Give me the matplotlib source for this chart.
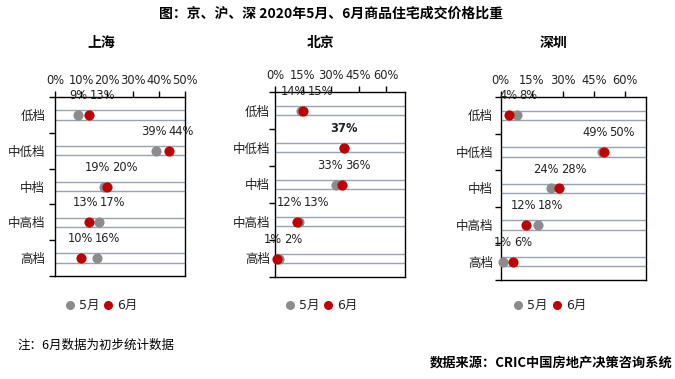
import matplotlib
matplotlib.use("Agg")
import matplotlib.pyplot as plt
from matplotlib.lines import Line2D
from matplotlib.ticker import FixedLocator, FuncFormatter

plt.rcParams['font.family'] = ['DejaVu Sans', 'Noto Sans CJK SC']

# ---------------- data ----------------
categories = ["低档", "中低档", "中档", "中高档", "高档"]
series_names = ["5月", "6月"]
cities = ["上海", "北京", "深圳"]

shanghai_may = [9, 39, 19, 17, 16]
shanghai_jun = [13, 44, 20, 13, 10]
beijing_may = [14, 37, 33, 13, 2]
beijing_jun = [15, 37, 36, 12, 1]
shenzhen_may = [8, 49, 24, 18, 1]
shenzhen_jun = [4, 50, 28, 12, 6]

shanghai_ticks = [0, 10, 20, 30, 40, 50]
beijing_ticks = [0, 15, 30, 45, 60]
shenzhen_ticks = [0, 15, 30, 45, 60]

title = "图：京、沪、深 2020年5月、6月商品住宅成交价格比重"
note = "注：6月数据为初步统计数据"
source = "数据来源：CRIC中国房地产决策咨询系统"

# ---------------- layout ----------------
W, H = 675, 379
DPI = 100
fig = plt.figure(figsize=(W / DPI, H / DPI), dpi=DPI)

GRAY = "#8c8c8c"
RED = "#c00000"
LINE = "#97a4b0"
TXT = "#222222"
CJK = "Noto Sans CJK SC"

def fbox(l, r, t, b):
    return [l / W, 1 - b / H, (r - l) / W, (b - t) / H]

panels = [
    dict(box=fbox(55, 185, 97, 276), xmax=50, ticks=shanghai_ticks,
         may=shanghai_may, jun=shanghai_jun, ypad=7.0, name=cities[0], tx=101),
    dict(box=fbox(275, 405, 92, 277), xmax=70, ticks=beijing_ticks,
         may=beijing_may, jun=beijing_jun, ypad=3.5, name=cities[1], tx=321),
    dict(box=fbox(500.7, 646, 97, 280), xmax=70, ticks=shenzhen_ticks,
         may=shenzhen_may, jun=shenzhen_jun, ypad=5.5, name=cities[2], tx=553),
]

LABEL_FS = 8.3
FS_PX = LABEL_FS * DPI / 72.0
DY_PT = 14.0

def label_width_px(v):
    s = f"{v}"
    return (len(s) * 0.636 + 0.95) * FS_PX

n = len(categories)
ypos = list(range(n))

for p in panels:
    ax = fig.add_axes(p["box"])
    ax.set_xlim(0, p["xmax"])
    ax.set_ylim(n - 0.5, -0.5)
    for s in ax.spines.values():
        s.set_color("black")
        s.set_linewidth(1.0)

    # x axis on top
    ax.xaxis.tick_top()
    ax.set_xticks(p["ticks"])
    ax.xaxis.set_major_formatter(FuncFormatter(lambda v, pos: f"{int(v)}%"))
    ax.tick_params(axis="x", which="major", length=4, width=1, pad=3,
                   labelsize=LABEL_FS, colors="black", labelcolor=TXT)

    # y axis: ticks at boundaries, labels at centers
    ax.yaxis.set_major_locator(FixedLocator([i - 0.5 for i in range(n + 1)]))
    ax.yaxis.set_major_formatter(FuncFormatter(lambda v, pos: ""))
    ax.yaxis.set_minor_locator(FixedLocator(ypos))
    ax.set_yticklabels(categories, minor=True, fontfamily=CJK, fontsize=9, color=TXT)
    ax.tick_params(axis="y", which="major", length=4, width=1, colors="black")
    ax.tick_params(axis="y", which="minor", length=0, pad=p["ypad"])

    # horizontal guide lines
    for y in ypos:
        ax.axhline(y - 0.13, color=LINE, lw=1.0, zorder=1)
        ax.axhline(y + 0.13, color=LINE, lw=1.0, zorder=1)

    ax.plot(p["may"], ypos, "o", color=GRAY, ms=7.3, mec="none", zorder=3,
            clip_on=False)
    ax.plot(p["jun"], ypos, "o", color=RED, ms=7.3, mec="none", zorder=4,
            clip_on=False)

    # data labels
    px_per_unit = (p["box"][2] * W) / p["xmax"]
    for y, a, b in zip(ypos, p["may"], p["jun"]):
        if a == b:
            ax.annotate(f"{a}%", (a, y), xytext=(0, DY_PT), textcoords="offset points",
                        ha="center", va="center", fontsize=LABEL_FS, color=TXT,
                        fontweight="bold", annotation_clip=False)
            continue
        lo, hi = min(a, b), max(a, b)
        wlo, whi = label_width_px(lo), label_width_px(hi)
        dist_px = (hi - lo) * px_per_unit
        if dist_px >= (wlo + whi) / 2 + 2:
            ax.annotate(f"{lo}%", (lo, y), xytext=(0, DY_PT), textcoords="offset points",
                        ha="center", va="center", fontsize=LABEL_FS, color=TXT,
                        annotation_clip=False)
            ax.annotate(f"{hi}%", (hi, y), xytext=(0, DY_PT), textcoords="offset points",
                        ha="center", va="center", fontsize=LABEL_FS, color=TXT,
                        annotation_clip=False)
        else:
            mid = (lo + hi) / 2
            bpx = 5.0
            ax.annotate(f"{lo}%", (mid, y), xytext=((bpx - 1.0) * 72 / DPI, DY_PT),
                        textcoords="offset points", ha="right", va="center",
                        fontsize=LABEL_FS, color=TXT, annotation_clip=False)
            ax.annotate(f"{hi}%", (mid, y), xytext=((bpx + 1.0) * 72 / DPI, DY_PT),
                        textcoords="offset points", ha="left", va="center",
                        fontsize=LABEL_FS, color=TXT, annotation_clip=False)

    # panel title
    fig.text(p["tx"] / W, 1 - 43 / H, p["name"], ha="center", va="center",
             fontfamily=CJK, fontsize=10, fontweight="bold", color="black")

# legends
legend_pos = [(70, 107.7), (290, 328.3), (518.3, 556.7)]
leg_y = 1 - 305 / H
for (xg, xr) in legend_pos:
    for xm, col, name in ((xg, GRAY, series_names[0]), (xr, RED, series_names[1])):
        fig.add_artist(Line2D([xm / W], [leg_y], marker="o", color=col, ms=6.5,
                              mec="none", linestyle="none", transform=fig.transFigure))
        fig.text((xm + 9) / W, leg_y, name, ha="left", va="center",
                 fontsize=9, color=TXT)

fig.text(331 / W, 1 - 14 / H, title, ha="center", va="center",
         fontfamily=CJK, fontsize=10, fontweight="bold", color="black")
fig.text(17 / W, 1 - 345 / H, note, ha="left", va="center",
         fontfamily=[CJK], fontsize=9, color="black")
fig.text(672 / W, 1 - 363 / H, source, ha="right", va="center",
         fontfamily=CJK, fontsize=9.5, fontweight="bold", color="black")

fig.savefig("out.png", dpi=DPI)
